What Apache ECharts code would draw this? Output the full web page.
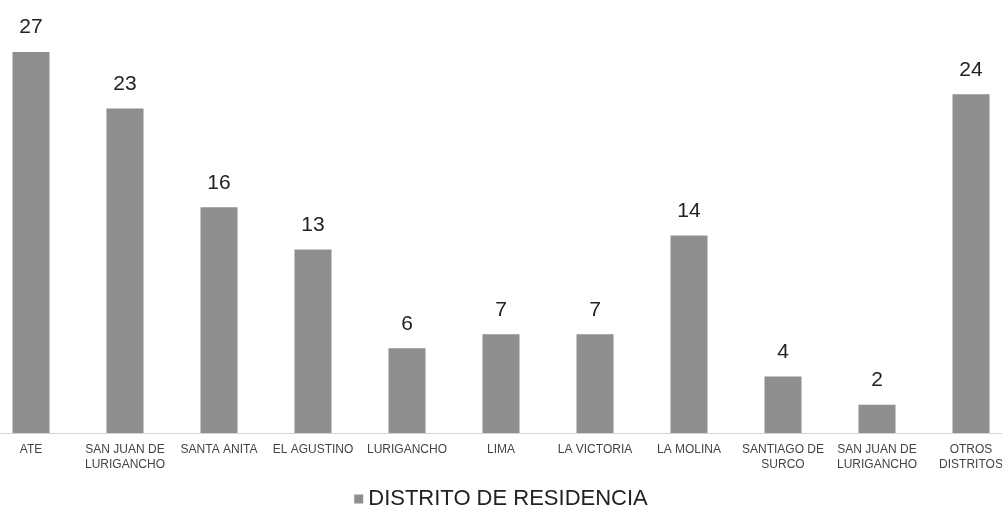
<!DOCTYPE html>
<html><head><meta charset="utf-8">
<script src="https://cdn.jsdelivr.net/npm/echarts@6/dist/echarts.min.js"></script>
<style>html,body{margin:0;padding:0;background:#fff;overflow:hidden;width:1002px;height:505px}#c{width:1034px;height:505px;margin-left:-16px}</style>
</head><body><div id="c"></div>
<script>
const categories = ["ATE","SAN JUAN DE\nLURIGANCHO","SANTA ANITA","EL AGUSTINO","LURIGANCHO","LIMA","LA VICTORIA","LA MOLINA","SANTIAGO DE\nSURCO","SAN JUAN DE\nLURIGANCHO","OTROS\nDISTRITOS"];
const values = [27,23,16,13,6,7,7,14,4,2,24];
const seriesName = "DISTRITO DE RESIDENCIA";
const chart = echarts.init(document.getElementById('c'));
chart.setOption({
  animation:false,
  grid:{left:0,right:0,top:52,bottom:72,containLabel:false},
  legend:{top:481,left:'center',itemWidth:9,itemHeight:9,itemGap:3,icon:'rect',
    textStyle:{fontFamily:'Liberation Sans',fontSize:22,color:'#222',lineHeight:26},data:[seriesName]},
  xAxis:{type:'category',data:categories,
    axisLine:{lineStyle:{color:'#d4d4d4',width:1}},axisTick:{show:false},
    axisLabel:{interval:0,fontFamily:'Liberation Sans',fontSize:12,color:'#444',lineHeight:15,margin:9}},
  yAxis:{type:'value',min:0,max:27,show:false,splitLine:{show:false}},
  series:[{name:seriesName,type:'bar',data:values,barWidth:37,
    itemStyle:{color:'#8e8e8e'},
    label:{show:true,position:'top',distance:14,fontFamily:'Liberation Sans',fontSize:21,color:'#222'}}]
});
</script></body></html>
